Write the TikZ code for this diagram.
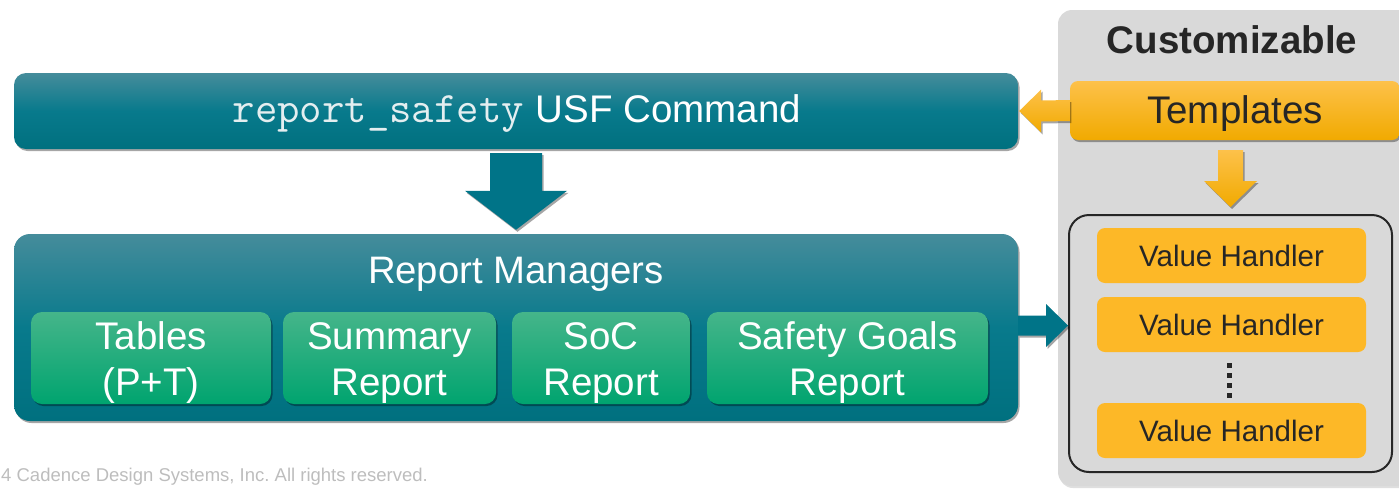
\documentclass[tikz,border=0pt]{standalone}
\usepackage{fontspec}
\setmainfont{Liberation Sans}
\usetikzlibrary{shadows,calc}
\frenchspacing

\definecolor{tealtop}{HTML}{458C9B}
\definecolor{tealmid}{HTML}{087A8C}
\definecolor{tealbot}{HTML}{00707F}
\definecolor{tealarrow}{HTML}{007488}
\definecolor{greentop}{HTML}{45B58A}
\definecolor{greenbot}{HTML}{00A46F}
\definecolor{ambertop}{HTML}{FDC14A}
\definecolor{amberbot}{HTML}{F1AA00}
\definecolor{amber}{HTML}{FDB827}
\definecolor{panelgray}{HTML}{D9D9D9}
\definecolor{ink}{HTML}{262626}
\definecolor{monotext}{HTML}{E4EEF0}
\definecolor{notegray}{HTML}{BDBDBD}

\newcommand\setpx[2]{\fontsize{#1}{#2}\selectfont}
% lower a label inside its box without changing the box's size
\newcommand\lowered[2]{\raisebox{-#1}[\height][\depth]{#2}}
% two centred lines
\newcommand\twolines[2]{\lowered{5pt}{\begin{tabular}{@{}c@{}}#1\\#2\end{tabular}}}

\tikzset{
  softshadow/.style={drop shadow={opacity=0.35, shadow xshift=1.5pt, shadow yshift=-2pt, fill=black}},
  tealbox/.style={rounded corners=12pt, top color=tealtop, bottom color=tealbot, middle color=tealmid,
    inner sep=0pt, softshadow},
  greenbox/.style={rounded corners=11pt, top color=greentop, bottom color=greenbot,
    inner sep=0pt, softshadow, text=white, font=\setpx{38.5}{46}, minimum height=92pt},
  amberbox/.style={rounded corners=8pt, top color=ambertop, bottom color=amberbot,
    inner sep=0pt, softshadow, text=ink, font=\setpx{38.5}{44}},
  handler/.style={rounded corners=8pt, fill=amber, inner sep=0pt, text=ink,
    minimum width=269pt, minimum height=55pt, font=\setpx{29.5}{34}},
  tealarrowfill/.style={fill=tealarrow, softshadow},
  amberarrowfill/.style={top color=ambertop, bottom color=amberbot, softshadow},
}

\begin{document}
\begin{tikzpicture}[x=1pt, y=-1pt]
  \useasboundingbox (0,0) rectangle (1399,488);
  \clip (0,0) rectangle (1399,488);

  % customisation panel on the right
  \node[fill=panelgray, rounded corners=14pt, minimum width=372pt, minimum height=476pt,
        inner sep=0pt, drop shadow={opacity=0.25, shadow xshift=1pt, shadow yshift=-2pt}]
        (panel) at (1244,248) {};
  \node[anchor=base, text=ink, font=\bfseries\setpx{38.5}{42}] (custom) at (1232,53) {Customizable};

  % command bar
  \node[tealbox, minimum width=1004pt, minimum height=76pt] (cmd) at (516,111) {};
  \node[anchor=base, text=white, font=\setpx{38.5}{44}] (cmdtext) at (517,122)
        {{\ttfamily\fontsize{43.5}{44}\selectfont\color{monotext}report\_safety}\hspace{12pt}USF Command};

  % report managers container
  \node[tealbox, rounded corners=16pt, minimum width=1004pt, minimum height=187pt] (mgr) at (516,327.5) {};
  \node[anchor=base, text=white, font=\setpx{38.3}{44}] (mgrtitle) at (516,283) {Report Managers};

  \node[greenbox, minimum width=240pt] (tables)  at (151,358)   {\twolines{Tables}{(P+T)}};
  \node[greenbox, minimum width=213pt] (summary) at (389.5,358) {\twolines{Summary}{Report}};
  \node[greenbox, minimum width=178pt] (soc)     at (601,358)   {\twolines{SoC}{Report}};
  \node[greenbox, minimum width=281pt] (goals)   at (847.5,358) {\twolines{Safety Goals}{Report}};

  % templates
  \node[amberbox, minimum width=330pt, minimum height=59pt] (tmpl) at (1235,110.5) {\lowered{3pt}{Templates}};

  % value handler group
  \node[draw=ink, line width=2pt, rounded corners=20pt, minimum width=323pt, minimum height=257pt,
        inner sep=0pt] (grp) at (1230.5,343.5) {};
  \node[handler] (vh1) at (1231.5,255.5) {Value Handler};
  \node[handler] (vh2) at (1231.5,324.5) {Value Handler};
  \node[handler] (vh3) at (1231.5,430.5) {Value Handler};
  \foreach \yy in {363,373,383,393}
    \fill[ink] (1227,\yy) rectangle ++(5,5);

  % command -> report managers
  \coordinate (dTop) at ($(cmd.south)+(0,4)$);
  \coordinate (dTip) at ($(mgr.north)+(0,-4)$);
  \fill[tealarrowfill]
    ($(dTop)+(-26,0)$) -- ($(dTop)+(26,0)$) -- ($(dTip)+(26,-39)$) -- ($(dTip)+(51,-39)$)
    -- (dTip) -- ($(dTip)+(-51,-39)$) -- ($(dTip)+(-26,-39)$) -- cycle;

  % templates -> command
  \coordinate (lBase) at (tmpl.west);
  \coordinate (lTip) at ($(cmd.east)+(1,0)$);
  \path[amberarrowfill]
    ($(lBase)+(0,-10.5)$) -- ($(lTip)+(22,-10.5)$) -- ($(lTip)+(22,-21.5)$) -- (lTip)
    -- ($(lTip)+(22,21.5)$) -- ($(lTip)+(22,10.5)$) -- ($(lBase)+(0,10.5)$) -- cycle;

  % templates -> value handlers
  \coordinate (oTop) at ($(tmpl.south -| grp.north)+(0,10)$);
  \coordinate (oTip) at ($(grp.north)+(0,-7)$);
  \path[amberarrowfill]
    ($(oTop)+(-12.5,0)$) -- ($(oTop)+(12.5,0)$) -- ($(oTip)+(12.5,-26)$) -- ($(oTip)+(26.5,-26)$)
    -- (oTip) -- ($(oTip)+(-26.5,-26)$) -- ($(oTip)+(-12.5,-26)$) -- cycle;

  % report managers -> value handlers
  \coordinate (rBase) at ($(mgr.east)+(0,-2)$);
  \coordinate (rTip) at (grp.west |- rBase);
  \fill[tealarrowfill]
    ($(rBase)+(0,-10)$) -- ($(rTip)+(-22,-10)$) -- ($(rTip)+(-22,-21.5)$) -- (rTip)
    -- ($(rTip)+(-22,21.5)$) -- ($(rTip)+(-22,10)$) -- ($(rBase)+(0,10)$) -- cycle;

  % footer
  \node[anchor=base west, inner sep=0pt, text=notegray, font=\setpx{18.5}{22}] (footer) at (1,481)
        {4 Cadence Design Systems, Inc. All rights reserved.};
\end{tikzpicture}
\end{document}
